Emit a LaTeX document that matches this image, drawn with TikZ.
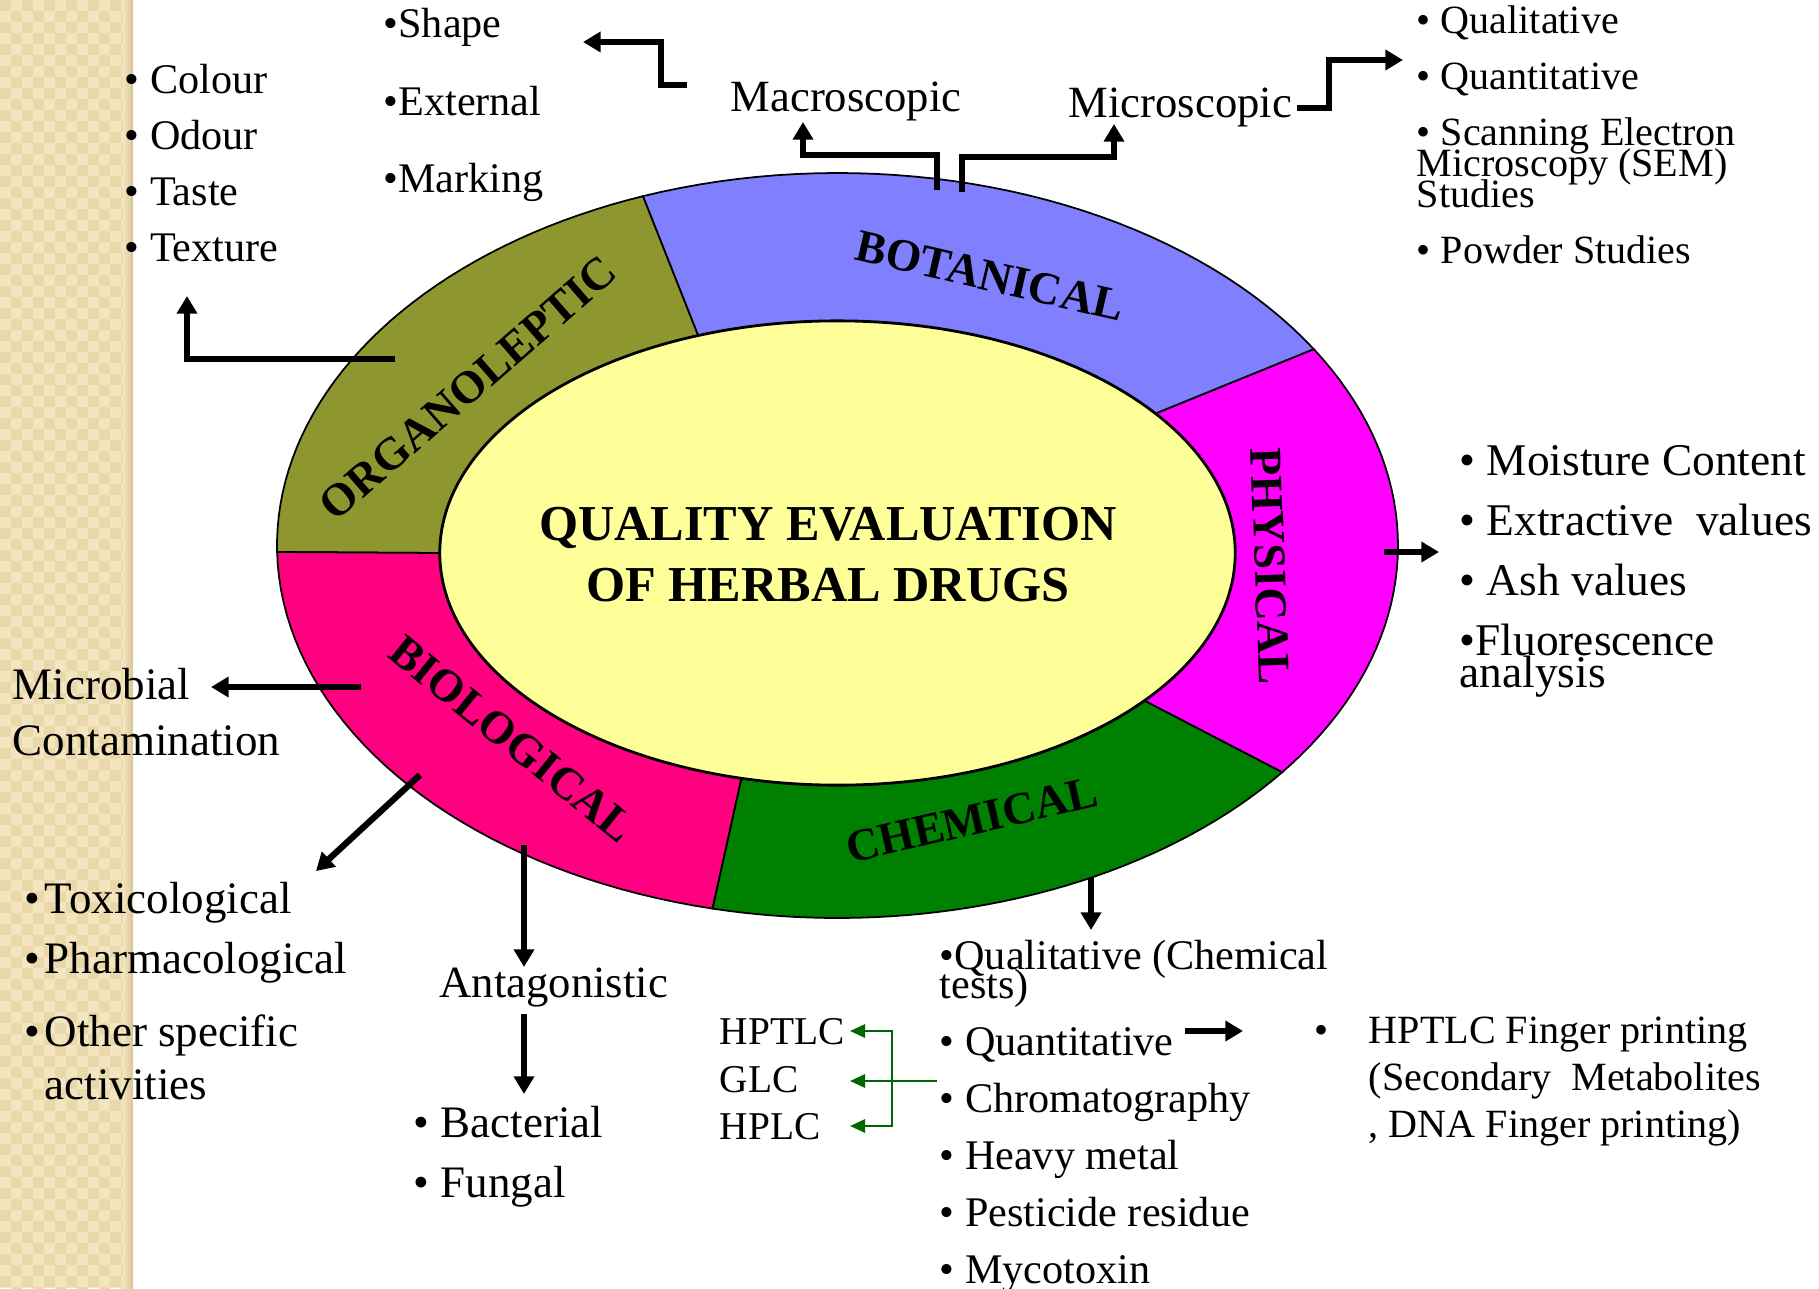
\documentclass[tikz,border=0pt]{standalone}
\usepackage{fontspec}
\setmainfont{Liberation Serif}
\usetikzlibrary{arrows.meta, positioning}
\definecolor{stripbase}{HTML}{F3E5BF}
\definecolor{stripdark}{HTML}{E9D8AA}
\definecolor{stripedge}{HTML}{D9C595}
\definecolor{organo}{HTML}{8E972F}
\definecolor{botan}{HTML}{8080FF}
\definecolor{phys}{HTML}{FF00FF}
\definecolor{chem}{HTML}{008000}
\definecolor{bio}{HTML}{FF0080}
\definecolor{centre}{HTML}{FFFF99}
\definecolor{gline}{HTML}{006600}
\newcommand{\Fs}[2]{\fontsize{#1}{#2}\selectfont}
% ring piece: colour, outer from/to, inner from/to
\newcommand{\RingPart}[5]{%
  \filldraw[fill=#1, draw=black, line width=0.5pt]
    plot[domain=#2:#3, samples=40] ({837.5+560.5*cos(\x)}, {545.5+372.5*sin(\x)})
    -- plot[domain=#5:#4, samples=40] ({837.5+397.5*cos(\x)}, {553+232*sin(\x)}) -- cycle;}
\tikzset{
    fat/.style={line width=1.8pt, -{Triangle[length=5pt, width=5.6pt]}},
    garrow/.style={draw=gline, line width=0.6pt, -{Triangle[length=4.3pt, width=3.8pt]}},
    lst/.style={inner sep=0pt, anchor=north west, align=left},
    ringlbl/.style={inner sep=0pt, font=\bfseries\Fs{13}{15}},
}
\begin{document}
\begin{tikzpicture}[x=0.01cm, y=-0.01cm]
    \useasboundingbox (0,0) rectangle (1819,1288);

    % beige strip on the left
    \fill[stripbase] (0,0) rectangle (133,1288);
    \foreach \i in {0,...,5}
      \foreach \j in {0,...,58} {
        \fill[stripdark] (\i*22,\j*22) rectangle ++(11,11);
        \fill[stripdark] (\i*22+11,\j*22+11) rectangle ++(11,11);
      }
    \shade[left color=stripbase, right color=stripedge] (123,0) rectangle (133,1288);

    % the ring and the centre
    \RingPart{organo}{179}{249.7}{180}{249.5}
    \RingPart{botan}{249.7}{328.2}{249.5}{323.1}
    \RingPart{phys}{-31.8}{37.5}{-36.9}{39.5}
    \RingPart{chem}{37.5}{102.9}{39.5}{104}
    \RingPart{bio}{102.9}{179}{104}{180}
    \filldraw[fill=centre, line width=0.8pt] (837.5,553) ellipse [x radius=3.975cm, y radius=2.32cm];

    \node[inner sep=0pt, anchor=north, align=center, font=\bfseries\Fs{14.3}{17.4}] (title) at (828,506)
      {QUALITY EVALUATION\\OF HERBAL DRUGS};
    \node[ringlbl, rotate=41] (org) at (468,388) {ORGANOLEPTIC};
    \node[ringlbl, rotate=-13] (bot) at (990,276) {BOTANICAL};
    \node[ringlbl, rotate=-88] (phy) at (1270,566) {PHYSICAL};
    \node[ringlbl, rotate=13] (chm) at (972,820) {CHEMICAL};
    \node[ringlbl, rotate=-39] (bio) at (512,739) {BIOLOGICAL};

    % texts round the ring
    \node[lst, font=\Fs{12}{15.9}] (colours) at (124,64) {• Colour\\• Odour\\• Taste\\• Texture};
    \node[lst, font=\Fs{12}{22}] (shapes) at (383,8) {•Shape\\•External\\•Marking};
    \node[inner sep=0pt, anchor=base west, font=\Fs{12.7}{15}] (macro) at (730,112) {Macroscopic};
    \node[inner sep=0pt, anchor=base west, font=\Fs{12.7}{15}] (micro) at (1068,117) {Microscopic};
    \node[lst, font=\Fs{11.4}{15.9}] (microlist) at (1416,5)
      {• Qualitative\\• Quantitative\\• Scanning Electron\\[-7.1pt]Microscopy (SEM)\\[-7.1pt]Studies\\• Powder Studies};
    \node[lst, font=\Fs{12.9}{17}] (physlist) at (1459,445)
      {• Moisture Content\\• Extractive\ \ values\\• Ash values\\•Fluorescence\\[-7.9pt]analysis};
    \node[lst, font=\Fs{12.8}{15.7}] (microbe) at (12,668) {Microbial\\Contamination};
    \node[lst, font=\Fs{12.8}{16.8}] (biolist) at (24,882)
      {•\hspace{1.2pt}Toxicological\\•\hspace{1.2pt}Pharmacological\\[4.2pt]•\hspace{1.2pt}Other specific\\[-1.7pt]\hphantom{•\hspace{1.2pt}}activities};
    \node[inner sep=0pt, anchor=base west, font=\Fs{12.7}{15}] (antag) at (439,997) {Antagonistic};
    \node[lst, font=\Fs{12.8}{17}] (bacteria) at (413,1106) {• Bacterial\\• Fungal};
    \node[lst, font=\Fs{12}{16.2}] (chemlist) at (939,939)
      {•Qualitative (Chemical\\[-7.7pt]tests)\\• Quantitative\\• Chromatography\\• Heavy metal\\• Pesticide residue\\• Mycotoxin};
    \node[lst, font=\Fs{11.2}{13.5}] (chroma) at (719,1018) {HPTLC\\GLC\\HPLC};
    \node[lst, font=\Fs{11.4}{13.4}] (finger) at (1314,1016)
      {\makebox[15.4pt][l]{•}HPTLC Finger printing\\\hspace*{15.4pt}(Secondary\ \ Metabolites\\\hspace*{15.4pt}, DNA Finger printing)};

    % ends of the connectors
    \coordinate (orgA) at (395,359);   \coordinate (orgT) at (187,296);
    \coordinate (shpA) at (687,85);    \coordinate (shpT) at (583,42);
    \coordinate (macA) at (937,190);   \coordinate (macT) at (803,122);
    \coordinate (micA) at (962,192);   \coordinate (micT) at (1114,124);
    \coordinate (micB) at (1297,108);  \coordinate (micU) at (1403,60);
    \coordinate (phyA) at (1384,552);  \coordinate (phyT) at (1439,552);
    \coordinate (bioM) at (361,687);   \coordinate (bioMT) at (211,687);
    \coordinate (bioX) at (420,775);   \coordinate (bioXT) at (316,871);
    \coordinate (bioN) at (524,845);   \coordinate (antT) at (524,967);
    \coordinate (antB) at (524,1014);  \coordinate (bacT) at (524,1094);
    \coordinate (chmA) at (1091,878);  \coordinate (chmT) at (1091,930);
    \coordinate (qntA) at (1185,1031); \coordinate (qntT) at (1243,1031);
    \coordinate (grnA) at (937,1081);  \coordinate (grnJ) at (892,1081);
    \coordinate (hpT) at (850,1031);   \coordinate (glT) at (850,1081);
    \coordinate (hlT) at (850,1126);

    \draw[fat] (orgA) -| (orgT);
    \draw[fat] (shpA) -- ++(-26,0) |- (shpT);
    \draw[fat] (macA) -- ++(0,-35) -| (macT);
    \draw[fat] (micA) -- ++(0,-35) -| (micT);
    \draw[fat] (micB) -- ++(32,0) |- (micU);
    \draw[fat] (phyA) -- (phyT);
    \draw[fat] (bioM) -- (bioMT);
    \draw[fat] (bioX) -- (bioXT);
    \draw[fat] (bioN) -- (antT);
    \draw[fat] (antB) -- (bacT);
    \draw[fat] (chmA) -- (chmT);
    \draw[fat] (qntA) -- (qntT);
    \draw[garrow] (grnA) -- (glT);
    \draw[garrow] (grnJ) |- (hpT);
    \draw[garrow] (grnJ) |- (hlT);
\end{tikzpicture}
\end{document}
